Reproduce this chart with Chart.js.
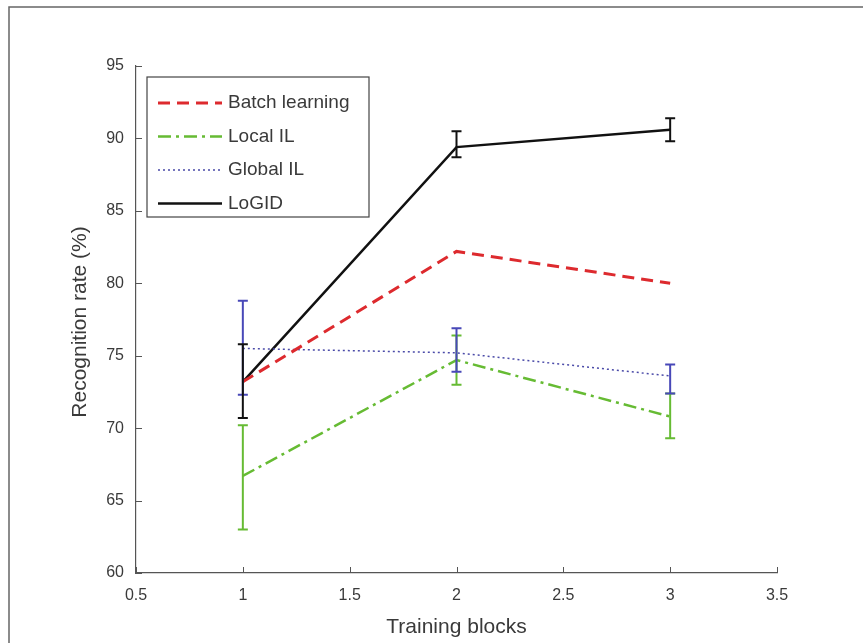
<!DOCTYPE html>
<html>
<head>
<meta charset="utf-8">
<script src="https://cdn.jsdelivr.net/npm/chart.js@4.4.1/dist/chart.umd.min.js"></script>
<style>
  html, body { margin: 0; padding: 0; background: #fff; }
  #wrap { width: 863px; height: 643px; position: relative; }
</style>
</head>
<body>
<div id="wrap"><canvas id="chart" width="863" height="643"></canvas></div>
<script>
const blocks = [1, 2, 3];
const xTicks = [0.5, 1, 1.5, 2, 2.5, 3, 3.5];
const yTicks = [60, 65, 70, 75, 80, 85, 90, 95];

const batchLearning = [73.2, 82.2, 80.0];
const localIL = [66.7, 74.7, 70.8];
const globalIL = [75.5, 75.2, 73.6];
const logid = [73.2, 89.4, 90.6];

// error bar extents (low / high)
const localILLow = [63.0, 73.0, 69.3];
const localILHigh = [70.2, 76.4, 72.4];
const globalILLow = [72.3, 73.9, 72.4];
const globalILHigh = [78.8, 76.9, 74.4];
const logidLow = [70.7, 88.7, 89.8];
const logidHigh = [75.8, 90.5, 91.4];

const FONT = '"Liberation Sans", Arial, sans-serif';
const TEXT = '#3a3a3a';
const AXIS = '#555';

const toPoints = (vals) => vals.map((v, i) => ({ x: blocks[i], y: v }));

const series = [
  { label: 'Batch learning', data: batchLearning, color: '#dd2a2e', width: 3, dash: [12, 7] },
  { label: 'Local IL', data: localIL, color: '#66bb33', width: 2.5, dash: [13, 5, 3, 5] },
  { label: 'Global IL', data: globalIL, color: '#4a4aa8', width: 1.5, dash: [2, 3] },
  { label: 'LoGID', data: logid, color: '#111', width: 2.5, dash: [] },
];

const errorBars = [
  { color: '#66bb33', low: localILLow, high: localILHigh },
  { color: '#4848b8', low: globalILLow, high: globalILHigh },
  { color: '#111', low: logidLow, high: logidHigh },
];

const matlabPlugin = {
  id: 'matlab',
  beforeDraw(chart) {
    const ctx = chart.ctx;
    ctx.save();
    ctx.fillStyle = '#fff';
    ctx.fillRect(0, 0, chart.width, chart.height);
    // figure frame (top and left edges visible)
    ctx.strokeStyle = '#666';
    ctx.lineWidth = 1.5;
    ctx.beginPath();
    ctx.moveTo(9, chart.height);
    ctx.lineTo(9, 7);
    ctx.lineTo(chart.width, 7);
    ctx.stroke();
    ctx.restore();
  },
  afterDatasetsDraw(chart) {
    const ctx = chart.ctx;
    const xs = chart.scales.x;
    const ys = chart.scales.y;
    ctx.save();
    // error bars
    errorBars.forEach((eb) => {
      ctx.strokeStyle = eb.color;
      ctx.lineWidth = 2;
      ctx.setLineDash([]);
      blocks.forEach((b, i) => {
        const px = xs.getPixelForValue(b);
        const y1 = ys.getPixelForValue(eb.low[i]);
        const y2 = ys.getPixelForValue(eb.high[i]);
        ctx.beginPath();
        ctx.moveTo(px, y1); ctx.lineTo(px, y2);
        ctx.moveTo(px - 5, y1); ctx.lineTo(px + 5, y1);
        ctx.moveTo(px - 5, y2); ctx.lineTo(px + 5, y2);
        ctx.stroke();
      });
    });
    // inward ticks
    ctx.strokeStyle = AXIS;
    ctx.lineWidth = 1;
    const { left, bottom } = chart.chartArea;
    ctx.beginPath();
    xTicks.forEach((t) => {
      const px = Math.round(xs.getPixelForValue(t)) + 0.5;
      ctx.moveTo(px, bottom); ctx.lineTo(px, bottom - 6);
    });
    yTicks.forEach((t) => {
      const py = Math.round(ys.getPixelForValue(t)) + 0.5;
      ctx.moveTo(left, py); ctx.lineTo(left + 6, py);
    });
    ctx.stroke();

    // axis titles
    ctx.fillStyle = TEXT;
    ctx.font = '21px ' + FONT;
    ctx.textAlign = 'center';
    ctx.textBaseline = 'middle';
    ctx.fillText('Training blocks', (xs.left + xs.right) / 2, 627);
    ctx.translate(80, 322);
    ctx.rotate(-Math.PI / 2);
    ctx.fillText('Recognition rate (%)', 0, 0);
    ctx.restore();

    // legend box
    ctx.save();
    const lx = 147, ly = 77, lw = 222, lh = 140;
    ctx.fillStyle = '#fff';
    ctx.fillRect(lx, ly, lw, lh);
    ctx.strokeStyle = '#444';
    ctx.lineWidth = 1.2;
    ctx.strokeRect(lx, ly, lw, lh);
    ctx.font = '19px ' + FONT;
    ctx.textAlign = 'left';
    ctx.textBaseline = 'middle';
    series.forEach((s, i) => {
      const ry = 103 + i * 33.5;
      ctx.strokeStyle = s.color;
      ctx.lineWidth = s.width;
      ctx.setLineDash(s.dash);
      ctx.beginPath();
      ctx.moveTo(158, ry); ctx.lineTo(222, ry);
      ctx.stroke();
      ctx.fillStyle = TEXT;
      ctx.fillText(s.label, 228, ry);
    });
    ctx.restore();
  },
};

new Chart(document.getElementById('chart'), {
  type: 'line',
  data: {
    datasets: series.map((s) => ({
      label: s.label,
      data: toPoints(s.data),
      borderColor: s.color,
      borderWidth: s.width,
      borderDash: s.dash,
      pointRadius: 0,
      fill: false,
      tension: 0,
    })),
  },
  options: {
    responsive: false,
    animation: false,
    layout: { padding: { top: 66, right: 86, left: 0, bottom: 0 } },
    plugins: {
      legend: { display: false },
      tooltip: { enabled: false },
    },
    scales: {
      x: {
        type: 'linear',
        min: 0.5,
        max: 3.5,
        afterBuildTicks: (scale) => { scale.ticks = xTicks.map((v) => ({ value: v })); },
        afterFit: (scale) => { scale.height = 70; },
        grid: { display: false, drawTicks: false },
        border: { display: true, color: AXIS, width: 1.2 },
        ticks: { color: TEXT, font: { family: FONT, size: 16 }, padding: 13, callback: (v) => String(v) },
      },
      y: {
        min: 60,
        max: 95,
        afterBuildTicks: (scale) => { scale.ticks = yTicks.map((v) => ({ value: v })); },
        afterFit: (scale) => { scale.width = 136; },
        grid: { display: false, drawTicks: false },
        border: { display: true, color: AXIS, width: 1.2 },
        ticks: { color: TEXT, font: { family: FONT, size: 16 }, padding: 12, callback: (v) => String(v) },
      },
    },
  },
  plugins: [matlabPlugin],
});
</script>
</body>
</html>
